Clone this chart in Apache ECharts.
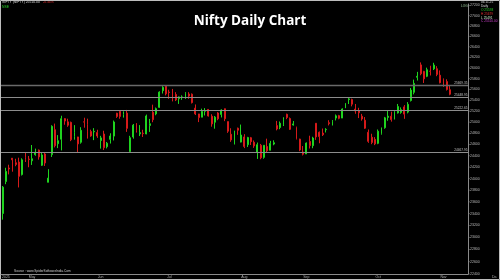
<!DOCTYPE html>
<html><head><meta charset="utf-8">
<script src="https://cdn.jsdelivr.net/npm/echarts@6/dist/echarts.min.js"></script>
<style>html,body{margin:0;padding:0;background:#000;}#c{width:500px;height:280px;}</style>
</head><body><div id="c"></div>
<script>
const dates = ['2025-04-17','2025-04-21','2025-04-22','2025-04-23','2025-04-24','2025-04-25','2025-04-28','2025-04-29','2025-04-30',
'2025-05-02','2025-05-05','2025-05-06','2025-05-07','2025-05-08','2025-05-09','2025-05-12','2025-05-13','2025-05-14','2025-05-15','2025-05-16','2025-05-19','2025-05-20','2025-05-21','2025-05-22','2025-05-23','2025-05-26','2025-05-27','2025-05-28','2025-05-29','2025-05-30',
'2025-06-02','2025-06-03','2025-06-04','2025-06-05','2025-06-06','2025-06-09','2025-06-10','2025-06-11','2025-06-12','2025-06-13','2025-06-16','2025-06-17','2025-06-18','2025-06-19','2025-06-20','2025-06-23','2025-06-24','2025-06-25','2025-06-26','2025-06-27','2025-06-30',
'2025-07-01','2025-07-02','2025-07-03','2025-07-04','2025-07-07','2025-07-08','2025-07-09','2025-07-10','2025-07-11','2025-07-14','2025-07-15','2025-07-16','2025-07-17','2025-07-18','2025-07-21','2025-07-22','2025-07-23','2025-07-24','2025-07-25','2025-07-28','2025-07-29','2025-07-30','2025-07-31',
'2025-08-01','2025-08-04','2025-08-05','2025-08-06','2025-08-07','2025-08-08','2025-08-11','2025-08-12','2025-08-13','2025-08-14','2025-08-18','2025-08-19','2025-08-20','2025-08-21','2025-08-22','2025-08-25','2025-08-26','2025-08-28','2025-08-29',
'2025-09-01','2025-09-02','2025-09-03','2025-09-04','2025-09-05','2025-09-08','2025-09-09','2025-09-10','2025-09-11','2025-09-12','2025-09-15','2025-09-16','2025-09-17','2025-09-18','2025-09-19','2025-09-22','2025-09-23','2025-09-24','2025-09-25','2025-09-26','2025-09-29','2025-09-30',
'2025-10-01','2025-10-03','2025-10-06','2025-10-07','2025-10-08','2025-10-09','2025-10-10','2025-10-13','2025-10-14','2025-10-15','2025-10-16','2025-10-17','2025-10-20','2025-10-23','2025-10-24','2025-10-27','2025-10-28','2025-10-29','2025-10-30','2025-10-31',
'2025-11-03','2025-11-04','2025-11-06'];

const open = [23402,23949,24185,24357,24277,24289,24070,24370,24342,
24311,24420,24500,24233,24431,23936,24420,24864,24613,24694,25064,25005,24996,24744,24734,24639,25006,24956,24832,24826,24812,
24670,24786,24561,24691,24749,25161,25196,25135,25164,24473,24733,24977,24788,24803,24787,24940,25179,25150,25269,25576,25661,
25551,25588,25505,25428,25451,25428,25514,25511,25255,25149,25090,25196,25231,25108,24999,25166,25140,25244,25010,24782,24609,24890,24642,
24734,24596,24720,24640,24464,24586,24372,24563,24496,24607,24938,24903,24965,25142,25065,24949,24899,24695,24466,
24432,24653,24579,24980,24818,24803,24864,24991,24945,25074,25118,25074,25276,25412,25411,25238,25210,25108,25035,24818,24728,24691,
24620,24795,24899,25086,25107,25075,25167,25177,25277,25182,25394,25546,25825,26057,25935,25843,25939,25982,25985,25863,
25786,25744,25593];

const close = [23852,24125,24167,24329,24247,24039,24328,24336,24334,
24347,24461,24380,24414,24273,24008,24925,24578,24667,25062,25020,24945,24684,24813,24610,24853,25001,24826,24752,24834,24751,
24717,24543,24621,24751,25003,25103,25104,25141,24888,24719,24946,24853,24812,24794,25112,24972,25045,25245,25549,25637,25517,
25542,25453,25405,25461,25461,25523,25476,25355,25150,25082,25196,25212,25112,24968,25091,25061,25220,25062,24837,24681,24821,24855,24768,
24565,24723,24650,24574,24596,24363,24585,24487,24619,24631,24877,24980,25051,25084,24870,24968,24712,24501,24427,
24625,24580,24715,24734,24741,24773,24869,24973,25005,25114,25069,25239,25330,25424,25327,25202,25170,25057,24891,24655,24635,24611,
24837,24894,25078,25108,25046,25182,25285,25227,25146,25324,25586,25710,25843,25891,25795,25966,25936,26054,25878,25722,
25700,25598,25510];

const low = [23298,23903,24073,24120,24216,23847,24054,24290,24198,
24238,24400,24331,24221,24220,23936,24378,24547,24535,24494,24953,24916,24659,24685,24462,24614,24900,24704,24737,24677,24717,
24526,24502,24530,24616,24671,25077,25062,25082,24825,24473,24703,24812,24750,24733,24783,24824,24999,25125,25259,25523,25489,
25426,25378,25384,25332,25407,25425,25425,25340,25129,25001,25089,25121,25101,24918,24882,25035,25085,25018,24807,24646,24599,24772,24636,
24535,24554,24590,24539,24344,24338,24348,24465,24496,24586,24852,24873,24930,25054,24859,24938,24689,24481,24405,
24432,24528,24533,24681,24621,24751,24814,24941,24940,25031,25052,25074,25254,25330,25287,25152,25074,25027,24878,24629,24605,24588,
24605,24775,24881,25025,25009,25048,25156,25152,25060,25159,25376,25508,25764,25862,25718,25827,25858,25960,25845,25711,
25646,25578,25491];

const high = [23872,24189,24242,24359,24347,24366,24355,24457,24396,
24590,24526,24510,24449,24448,24164,24944,24974,24767,25116,25071,25062,25010,24946,24737,24909,25080,25063,24864,24892,24863,
24754,24845,24644,24800,25029,25170,25199,25196,25222,24754,24967,24983,24947,24863,25137,25058,25318,25266,25565,25660,25669,
25593,25608,25548,25470,25489,25548,25548,25524,25322,25151,25245,25255,25238,25144,25111,25182,25233,25247,25011,24890,24847,24902,24956,
24784,24736,24734,24671,24634,24609,24586,24703,24664,24674,25022,25012,25089,25154,25084,25021,24919,24702,24572,
24636,24756,24737,24980,24832,24885,24891,25035,25037,25139,25132,25251,25346,25449,25428,25331,25261,25150,25092,24868,24791,24731,
24868,24904,25095,25220,25190,25200,25331,25268,25310,25365,25625,25781,25926,26104,25944,26005,26041,26097,26033,25953,
25803,25787,25679];

const yTicks = [22400,22600,22800,23000,23200,23400,23600,23800,24000,24200,24400,24600,24800,25000,25200,25400,25600,25800,26000,26200,26400,26600,26800,27000,27200];
const levels = [25669.35, 25448.95, 25222.65, 24467.95];
const monthNames = ['Jan','Feb','Mar','Apr','May','Jun','Jul','Aug','Sep','Oct','Nov','Dec'];

const UP = '#1fd31f', DOWN = '#d61a1a';
const padCount = 5;
const cats = dates.concat(new Array(padCount).fill(''));
const ohlc = dates.map((d, i) => [open[i], close[i], low[i], high[i]]);
const monthStart = new Set();
dates.forEach((d, i) => { if (i > 0 && d.slice(5, 7) !== dates[i - 1].slice(5, 7)) monthStart.add(i); });
const lastClose = close[close.length - 1];
const prevClose = close[close.length - 2];
const pct = ((lastClose - prevClose) / prevClose * 100).toFixed(2);

const chart = echarts.init(document.getElementById('c'));
const FF = 'Liberation Sans';

const markData = levels.map((v, k) => ({
  yAxis: v,
  lineStyle: { color: k === 0 ? '#6a6a6a' : '#8c8c8c', width: k === 0 ? 1.3 : 1, type: 'solid' },
  label: { show: true, position: 'insideEndTop', formatter: v.toFixed(2), color: '#c0c0c0', fontSize: 3.2, fontFamily: FF, distance: 0.5 }
}));
markData.push({
  yAxis: lastClose,
  lineStyle: { opacity: 0 },
  label: { show: true, position: 'end', formatter: lastClose.toFixed(2), color: '#000', backgroundColor: '#e4e4e4', fontSize: 3.2, fontFamily: FF, padding: [1, 1, 1, 1], distance: 1 }
});

chart.setOption({
  backgroundColor: '#000',
  animation: false,
  title: { text: 'Nifty Daily Chart', left: 'center', top: 9,
    textStyle: { color: '#ffffff', fontSize: 13.5, fontWeight: 'bold', fontFamily: 'Open Sans' } },
  grid: { left: 1, right: 32, top: 4, bottom: 6 },
  xAxis: {
    type: 'category', data: cats, boundaryGap: true,
    axisLine: { onZero: false, lineStyle: { color: '#8a8a8a', width: 1 } },
    axisTick: { alignWithLabel: true, interval: (i) => monthStart.has(i), length: 2, lineStyle: { color: '#8a8a8a' } },
    axisLabel: { interval: (i) => monthStart.has(i), formatter: (v) => v ? monthNames[+v.slice(5, 7) - 1] : '',
      color: '#b0b0b0', fontSize: 3.5, fontFamily: FF, margin: 1 },
    splitLine: { show: false }
  },
  yAxis: {
    type: 'log', logBase: 10, position: 'right', min: 22400, max: 27230,
    axisLine: { show: true, lineStyle: { color: '#8a8a8a', width: 1 } },
    axisTick: { show: false }, axisLabel: { show: false }, splitLine: { show: false }
  },
  series: [{
    type: 'candlestick', data: ohlc, barWidth: 1.4,
    itemStyle: { color: UP, color0: DOWN, borderColor: UP, borderColor0: DOWN, borderColorDoji: UP, borderWidth: 1 },
    markLine: { symbol: ['none', 'none'], silent: true, animation: false, data: markData }
  }]
});

const els = [];
yTicks.forEach(v => {
  const y = chart.convertToPixel({ yAxisIndex: 0 }, v);
  els.push({ type: 'line', shape: { x1: 468, y1: y, x2: 469.5, y2: y }, style: { stroke: '#8a8a8a', lineWidth: 1 } });
  els.push({ type: 'text', x: 470, y: y, style: { text: String(v), fill: '#b8b8b8', font: '3.5px ' + FF, verticalAlign: 'middle', textVerticalAlign: 'middle' } });
});
function txt(x, y, s, fill, size) {
  els.push({ type: 'text', x: x, y: y, style: { text: s, fill: fill, font: (size || 3.4) + 'px ' + FF, verticalAlign: 'top', textVerticalAlign: 'top' } });
}
txt(2, 1, 'NIFTY (NIFTY) ' + lastClose.toFixed(2), '#d8d8d8', 3.4);
txt(43, 1, pct + '%', '#e03030', 3.4);
txt(2, 5.5, 'NSE', '#2ad42a', 3.4);
txt(461, 4.5, 'LOG', '#9fd09f', 3.2);
txt(481, 1, '06.11.25', '#d8d8d8', 3.2);
txt(481, 4.8, 'Daily', '#d8d8d8', 3.2);
txt(481, 8.6, 'O ' + open[open.length - 1], '#2ad42a', 3.2);
txt(481, 12.4, 'H ' + high[high.length - 1], '#e03030', 3.2);
txt(481, 16.2, 'L ' + low[low.length - 1], '#c8e8c8', 3.2);
txt(481, 20, 'C ' + lastClose.toFixed(2), '#d040d0', 3.2);
txt(14, 269.5, 'Source : www.SpiderSoftwareIndia.Com', '#d0d0d0', 3.2);
txt(2, 275.5, '2025', '#b0b0b0', 3.5);
txt(492, 275.5, 'Da', '#b0b0b0', 3.5);
els.push({ type: 'rect', shape: { x: 0.5, y: 0.5, width: 499, height: 279 }, style: { fill: 'none', stroke: '#bdbdbd', lineWidth: 1 } });
chart.setOption({ graphic: { elements: els } });
</script>
</body></html>
